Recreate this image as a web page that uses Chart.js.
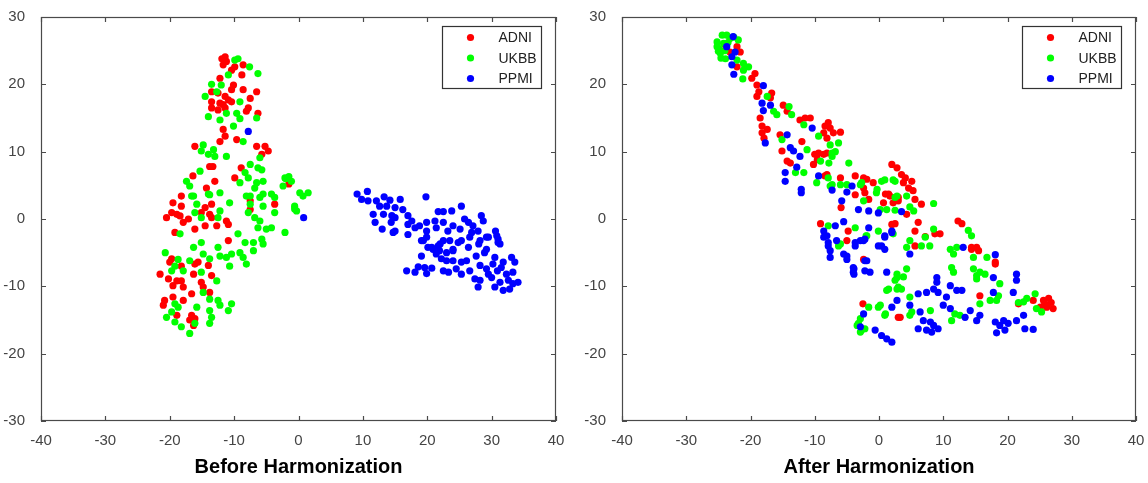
<!DOCTYPE html>
<html>
<head>
<meta charset="utf-8">
<script src="https://cdn.jsdelivr.net/npm/chart.js@4.4.1/dist/chart.umd.min.js"></script>
<style>
  body { margin: 0; background: #fff; }
  #wrap { position: relative; width: 1148px; height: 483px; }
  canvas { position: absolute; top: 0; }
  #before { left: 0; }
  #after { left: 574px; }
</style>
</head>
<body>
<div id="wrap">
  <canvas id="before" width="574" height="483"></canvas>
  <canvas id="after" width="574" height="483"></canvas>
</div>
<script>
const seriesNames = ["ADNI", "UKBB", "PPMI"];
const seriesColors = ["#ff0000", "#00ff00", "#0000ff"];
const xTicksRange = [-40, 40];
const yTicksRange = [-30, 30];

// Before Harmonization
const beforeADNI = [
  [-11.4,24.1],[-11.9,23.8],[-11.2,23.4],[-11.7,22.9],[-9.9,22.6],[-8.6,22.9],[-10.4,22.1],[-8.8,21.4],
  [-12.2,20.9],[-10.1,19.9],[-10.4,19.2],[-13.5,18.9],[-12.5,18.7],[-8.6,19.2],[-6.5,18.9],[-11.4,18.2],
  [-10.9,17.7],[-7.5,17.9],[-13.5,17.4],[-12.2,17.2],[-11.7,17.0],[-10.4,17.4],[-13.5,16.5],[-12.5,16.2],
  [-11.4,16.5],[-7.8,16.5],[-8.1,16.0],[-6.3,15.7],[-11.7,13.3],[-12.2,11.5],[-11.4,12.3],[-9.6,11.8],
  [-16.1,10.8],[-6.5,10.8],[-5.2,10.8],[-4.7,10.1],[-5.7,9.6],[-13.8,7.8],[-13.3,7.8],[-8.9,7.6],
  [-16.4,6.4],[-13.0,5.6],[-9.9,6.1],[-14.3,4.6],[-18.2,3.4],[-1.5,5.2],
  [-19.5,2.4],[-18.2,1.9],[-19.7,0.95],[-18.9,0.7],[-20.5,0.2],[-18.4,0.46],[-17.9,-0.5],[-17.1,0.0],
  [-19.2,-2.0],[-16.1,-1.5],[-14.5,-1.0],[-15.1,0.95],[-14.5,1.7],[-13.5,2.2],[-13.8,0.7],[-13.5,0.2],
  [-12.7,-1.0],[-11.2,-0.3],[-10.9,-0.8],[-7.5,2.7],[-7.5,1.4],[-3.7,2.2],[-10.9,-3.2],[-19.7,-5.9],
  [-20.0,-6.4],[-18.2,-7.0],[-21.5,-8.2],[-20.2,-8.9],[-18.9,-9.2],[-17.9,-10.1],[-18.2,-9.2],[-19.5,-9.9],
  [-16.1,-6.7],[-15.6,-6.4],[-16.3,-8.2],[-15.1,-9.4],[-14.8,-10.1],[-14.0,-6.9],[-13.5,-8.4],[-13.8,-10.9],
  [-16.6,-11.1],[-19.5,-11.6],[-20.8,-12.1],[-21.0,-12.8],[-17.9,-12.1],[-18.9,-14.3],[-16.6,-14.3],
  [-16.9,-15.0],[-16.1,-14.8],[-16.3,-15.8]
];
const beforeUKBB = [
  [-9.4,23.8],[-9.9,23.6],[-7.6,22.6],[-6.3,21.6],[-10.9,21.4],[-13.5,20.0],[-12.0,19.9],[-12.7,18.9],
  [-14.5,18.2],[-9.1,17.4],[-11.2,15.7],[-9.6,15.7],[-14.0,15.2],[-12.2,14.7],[-9.1,14.9],[-6.5,15.0],
  [-10.1,13.8],[-8.6,11.5],[-14.8,11.0],[-15.1,10.1],[-13.2,10.3],[-14.0,9.6],[-13.0,9.3],[-11.2,9.3],
  [-6.0,9.1],[-7.5,8.1],[-6.3,7.6],[-5.7,7.3],[-15.3,7.1],[-8.3,6.9],[-7.8,6.1],[-17.4,5.6],[-16.9,4.9],
  [-9.1,5.4],[-6.5,5.4],[-5.5,5.6],[-2.1,6.1],[-1.1,5.6],[-2.4,4.9],[0.2,3.9],[1.5,3.9],[-16.3,3.4],
  [-14.0,3.7],[-12.2,3.9],[-6.8,4.6],[-5.5,3.7],[-4.2,3.7],[-3.7,3.2],[-7.5,3.4],[0.7,3.4],[-2.0,6.0],
  [-1.5,6.3],[-0.6,1.5],
  [-16.6,3.4],[-15.8,2.2],[-16.1,0.95],[-12.2,1.2],[-12.5,0.2],[-10.7,2.4],[-15.1,0.2],[-18.4,-2.2],
  [-13.8,3.6],[-8.1,3.4],[-7.5,2.2],[-6.0,3.2],[-5.5,1.9],[-7.8,0.95],[-6.8,0.2],[-6.0,-0.3],[-6.3,-1.3],
  [-5.0,-1.5],[-4.2,-1.3],[-3.7,0.95],[-0.6,1.9],[-0.3,1.2],[-2.1,-2.0],[-9.4,-2.2],[-8.3,-3.5],[-7.0,-3.5],
  [-5.7,-3.0],[-5.5,-3.7],[-7.0,-4.7],[-9.1,-5.0],[-10.4,-5.2],[-11.2,-5.7],[-12.2,-5.5],[-12.5,-4.2],
  [-15.1,-3.5],[-16.3,-4.2],[-14.8,-5.2],[-16.9,-6.2],[-13.8,-5.9],[-10.7,-7.0],[-8.6,-5.7],[-8.1,-6.7],
  [-20.7,-5.0],[-19.2,-7.0],[-18.7,-6.0],[-19.7,-7.7],[-17.9,-7.7],[-15.1,-7.9],[-12.7,-9.2],[-14.8,-10.9],
  [-13.8,-11.9],[-12.5,-12.1],[-12.2,-12.8],[-10.4,-12.6],[-10.9,-13.6],[-19.2,-12.6],[-18.7,-13.1],
  [-19.7,-13.8],[-20.5,-14.6],[-19.2,-15.3],[-18.2,-16.0],[-16.9,-17.0],[-15.8,-13.1],[-16.1,-15.5],
  [-13.8,-13.6],[-13.5,-14.6],[-13.8,-15.5]
];
const beforePPMI = [
  [-7.8,13.0],[0.8,0.2],
  [9.1,3.7],[10.7,4.1],[9.8,2.9],[10.8,2.7],[12.1,2.7],[13.3,3.3],[14.2,2.8],[15.8,2.9],[19.8,3.3],
  [12.6,1.9],[13.7,1.9],[15.0,1.7],[11.6,0.7],[13.2,0.7],[14.5,0.5],[15.0,0.2],[16.2,1.4],[17.0,0.5],
  [11.9,-0.5],[13.0,-1.5],[14.4,-0.5],[15.0,-1.8],[17.0,-0.8],[17.6,-0.3],[18.1,-1.3],[18.8,-1.0],
  [19.9,-0.5],[19.9,-1.8],[21.2,-0.3],[21.7,1.1],[22.5,1.1],[23.8,1.2],[25.3,1.9],[21.4,-1.3],[22.5,-0.5],
  [23.2,-1.8],[24.0,-1.0],[25.1,-1.5],[25.8,0.0],[26.4,-0.5],[27.1,-1.0],[26.9,-2.0],[27.9,-1.8],
  [28.4,0.5],[28.7,-0.3],[30.6,-1.8],[31.0,-3.0],[29.5,-2.7],[28.2,-3.2],[26.6,-2.7],[25.3,-3.2],
  [23.5,-3.2],[22.0,-3.7],[20.7,-4.2],[19.1,-3.2],[19.9,-2.7],[24.0,-4.5],[29.2,-4.5],[31.3,-3.7],
  [14.7,-2.0],[17.0,-2.3],[19.4,-3.2],[20.1,-4.2],[20.9,-4.5],[21.7,-4.0],[22.5,-3.2],[24.8,-3.5],
  [21.4,-5.2],[21.9,-4.7],[23.0,-5.0],[24.0,-4.7],[26.4,-4.2],[28.0,-3.7],[29.2,-2.7],[31.0,-3.5],
  [30.8,-2.5],[19.1,-5.5],[22.2,-5.9],[23.0,-6.2],[24.0,-6.2],[25.3,-6.4],[26.1,-6.2],[27.6,-5.5],
  [28.9,-5.0],[30.5,-5.7],[31.8,-6.4],[33.1,-5.7],[33.6,-6.4],[16.8,-7.7],[18.1,-7.9],[18.6,-7.1],
  [19.6,-7.2],[19.9,-8.1],[20.7,-7.3],[22.5,-7.7],[23.3,-7.9],[24.5,-7.4],[25.3,-8.2],[26.6,-7.7],
  [28.2,-6.9],[29.2,-7.4],[29.5,-8.2],[30.2,-6.7],[30.9,-7.7],[31.5,-7.2],[32.3,-8.2],[33.3,-7.9],
  [27.4,-8.9],[28.2,-9.1],[27.9,-10.1],[30.5,-10.1],[31.3,-9.4],[31.8,-10.6],[32.8,-10.4],[33.3,-9.6],
  [34.1,-9.4],[30.0,-8.7],[32.6,-9.1]
];

// After Harmonization
const afterADNI = [
  [-23.9,25.8],[-23.2,24.8],[-22.1,25.6],[-21.6,24.8],[-22.1,22.6],[-19.8,20.9],[-19.3,21.6],[-19.0,19.9],
  [-18.7,18.9],[-19.0,18.2],[-16.7,18.7],[-16.9,18.0],[-14.9,16.9],[-14.3,16.0],[-18.5,15.0],[-18.2,13.8],
  [-17.4,13.3],[-18.2,12.8],[-17.9,12.0],[-12.3,14.7],[-11.5,15.0],[-10.7,15.0],[-15.4,12.5],[-15.1,10.1],
  [-12.0,11.5],[-8.4,13.8],[-7.9,14.3],[-7.6,13.5],[-7.1,12.8],[-6.0,12.9],[-8.6,12.8],[-8.1,12.0],
  [-9.6,9.6],[-9.6,8.8],[-8.6,9.6],[-10.2,8.1],[-8.1,6.6],[-8.4,6.4],[-6.0,6.1],[-3.7,6.4],[-1.9,5.9],
  [-3.7,3.6],[-5.9,1.7],[-9.1,-0.7],[-4.8,-1.8],[-5.0,-3.2],
  [-14.3,8.6],[-13.8,8.3],[-10.0,9.6],[-9.4,9.8],[-8.1,9.8],[-2.4,6.1],[-0.9,5.4],[-2.4,4.6],[-2.2,3.9],
  [-1.6,2.9],[2.0,8.1],[2.8,7.6],[1.0,3.7],[1.5,3.7],[2.2,2.4],[3.0,3.2],[-2.4,-6.0],[2.0,-0.8],
  [-2.5,-12.6],[3.0,-14.6],
  [3.5,6.6],[4.1,6.1],[5.1,5.6],[3.8,5.4],[5.3,4.2],[4.6,4.6],[1.7,3.4],[0.7,2.4],[3.0,2.7],[5.6,2.9],
  [6.6,2.2],[4.3,0.7],[2.5,-0.7],[6.1,-0.5],[5.6,-1.8],[7.2,-2.6],[8.7,-2.2],[9.5,-2.2],[12.3,-0.3],
  [12.9,-0.7],[14.4,-4.2],[15.2,-4.2],[5.6,-4.0],
  [14.4,-4.5],[15.5,-4.7],[18.1,-6.7],[15.7,-11.4],[21.7,-12.6],[24.0,-12.1],[25.6,-12.1],[26.1,-13.1],
  [27.1,-13.3],[26.4,-11.8],[25.1,-13.1],[3.3,-14.6],[18.1,-6.4],[25.8,-12.6],[26.8,-12.4],[26.2,-12.9]
];
const afterUKBB = [
  [-25.2,26.3],[-24.9,25.3],[-24.4,27.3],[-23.7,27.3],[-23.2,26.8],[-21.9,26.6],[-24.7,24.6],[-23.9,23.8],
  [-25.2,25.6],[-24.2,26.1],[-22.1,23.6],[-21.1,23.1],[-20.3,22.6],[-21.1,22.1],[-21.2,20.8],[-17.4,18.2],
  [-16.4,16.0],[-15.9,15.5],[-14.0,16.7],[-13.6,15.5],[-11.7,14.0],[-9.4,12.3],[-7.6,11.0],[-6.3,11.3],
  [-11.2,10.3],[-7.3,9.3],[-6.8,10.0],[-9.1,8.6],[-7.8,8.3],[-4.7,8.3],[-13.0,6.9],[-11.7,6.9],[-9.7,5.4],
  [-7.6,4.9],[-6.0,5.1],[-5.0,5.1],[-2.9,5.1],[-2.4,2.7],[-15.1,11.8],
  [-24.0,25.0],[-23.5,26.2],[-22.6,27.0],[-24.6,23.9],[-25.0,24.9],
  [-7.3,9.8],[-7.9,6.1],[-7.3,5.1],[-0.3,4.4],[0.4,5.6],[2.5,5.6],[0.2,1.4],[1.2,1.4],[2.5,3.2],
  [-7.9,-1.0],[-3.7,-1.3],[-1.9,-2.5],[-6.0,-3.7],[2.8,-8.7],[2.8,-10.4],[1.5,-10.4],[0.2,-12.8],
  [-1.6,-13.1],[1.0,-14.1],[-3.2,-15.5],[-2.9,-16.8],[-2.2,-16.3],
  [-6.3,-4.0],[-2.0,-2.5],[-3.4,-15.8],[-2.7,-16.5],[-2.9,-14.8],
  [0.9,5.8],[2.2,5.8],[-0.4,3.9],[2.8,3.4],[4.3,3.4],[-2.7,5.4],[2.5,1.3],[4.8,1.8],[5.4,1.2],[8.5,2.3],
  [-0.1,-1.8],[2.2,-2.2],[4.8,-3.2],[6.6,-4.0],[7.9,-4.0],[8.5,-1.5],[13.9,-1.7],[14.4,-2.5],[11.1,-4.5],
  [12.1,-4.2],
  [7.2,-2.7],[4.3,-4.2],[11.6,-5.2],[14.7,-5.7],[16.8,-5.7],[11.3,-7.2],[11.6,-7.9],[14.7,-7.4],[15.2,-8.4],
  [15.7,-7.9],[16.5,-8.2],[18.8,-9.6],[17.3,-12.1],[18.3,-12.1],[18.6,-11.4],[15.7,-12.6],[21.7,-12.4],
  [23.0,-11.8],[24.3,-11.1],[24.5,-13.3],[25.3,-13.8],[2.8,-8.2],[4.3,-7.4],[3.0,-10.1],[4.8,-11.6],
  [8.0,-13.6],[11.8,-14.1],[12.6,-14.3],[11.3,-15.1],[4.8,-14.3],
  [-0.1,-13.1],[0.9,-14.3],[15.2,-8.9],[2.5,-9.1],[3.8,-8.6],[3.5,-10.4],[1.2,-10.6],[5.1,-13.8],[22.5,-12.3]
];
const afterPPMI = [
  [-22.7,27.1],[-23.7,25.6],[-22.4,24.8],[-22.9,24.1],[-22.9,22.9],[-22.6,21.5],[-18.0,19.8],[-18.2,17.2],
  [-18.0,16.1],[-16.9,16.9],[-17.7,11.3],[-14.3,12.5],[-13.8,10.6],[-13.3,10.1],[-12.3,9.3],[-12.8,7.7],
  [-14.6,6.9],[-14.6,5.6],[-12.1,4.4],[-12.1,3.9],[-10.4,13.5],[-9.4,6.4],[-7.3,4.3],[-5.0,4.0],[-4.2,4.9],
  [-5.8,2.7],[-3.2,1.4],[-1.6,1.2],[-5.5,-0.4],[-6.8,-1.0],[-8.6,-1.8],[-8.1,-2.5],[-6.6,-3.2],[-3.7,-3.5],
  [-2.4,-3.2],[-1.6,-1.3],
  [-0.1,0.9],[-7.9,-3.5],[-7.6,-5.7],[-5.5,-5.2],[-5.0,-6.0],[-4.0,-7.2],[-4.0,-7.9],[-3.7,-4.0],
  [-1.9,-6.2],[-1.4,-7.9],[0.4,-4.0],[0.9,-4.5],[0.9,-2.7],[2.0,-2.0],[1.2,-7.9],[2.8,-12.1],[2.0,-13.1],
  [-2.4,-14.1],[-2.9,-16.0],[-0.6,-16.5],[0.4,-17.3],[1.2,-17.8],[2.0,-18.3],
  [-8.6,-2.7],[-7.9,-4.0],[-7.6,-4.7],[-5.0,-5.5],[-2.9,-3.2],[-2.2,-3.0],[-3.9,-7.4],[-3.9,-8.2],
  [-2.2,-7.7],[-2.2,-6.2],
  [3.5,1.1],[0.9,-2.5],[2.0,-1.8],[-0.1,-4.0],[13.1,-4.2],
  [18.1,-5.3],[9.0,-8.7],[9.0,-9.4],[11.1,-9.9],[12.1,-10.6],[10.5,-11.6],[12.9,-10.6],[8.5,-10.4],
  [9.2,-10.9],[6.1,-11.1],[7.4,-10.9],[17.8,-8.7],[21.4,-8.2],[21.4,-9.1],[20.9,-10.9],[17.8,-10.9],
  [10.0,-12.8],[11.1,-13.3],[14.2,-13.6],[13.4,-14.6],[15.7,-14.3],[15.2,-15.1],[18.1,-15.3],[19.4,-15.1],
  [20.1,-15.5],[21.4,-15.1],[22.5,-14.3],[18.8,-15.8],[19.6,-16.5],[18.3,-16.9],[22.7,-16.3],[24.0,-16.4],
  [4.8,-12.8],[6.4,-13.8],[6.9,-15.1],[8.0,-15.3],[8.5,-15.8],[8.2,-16.8],[7.4,-16.5],[6.1,-16.3],
  [9.2,-16.3],[4.8,-5.2]
];

const fontFamily = "'Liberation Sans', Arial, sans-serif";

function toPoints(arr) {
  return arr.map(p => ({ x: p[0], y: p[1] }));
}

// box + inward tick marks, matlab style
const axesBox = {
  id: "axesBox",
  afterDraw(chart) {
    const { ctx, chartArea: a, scales } = chart;
    const x = scales.x, y = scales.y;
    ctx.save();
    ctx.strokeStyle = "#4a4a4a";
    ctx.lineWidth = 1.2;
    ctx.strokeRect(a.left + 0.5, a.top + 0.5, a.width - 1, a.height - 1);
    ctx.beginPath();
    x.ticks.forEach(t => {
      const px = Math.round(x.getPixelForValue(t.value)) + 0.5;
      ctx.moveTo(px, a.bottom); ctx.lineTo(px, a.bottom - 5);
      ctx.moveTo(px, a.top); ctx.lineTo(px, a.top + 5);
    });
    y.ticks.forEach(t => {
      const py = Math.round(y.getPixelForValue(t.value)) + 0.5;
      ctx.moveTo(a.left, py); ctx.lineTo(a.left + 5, py);
      ctx.moveTo(a.right, py); ctx.lineTo(a.right - 5, py);
    });
    ctx.stroke();

    // legend box inside top right
    const bw = 99, bh = 62;
    const bx = Math.round(a.right - 15 - bw) + 0.5;
    const by = Math.round(a.top + 9) + 0.5;
    ctx.fillStyle = "#fff";
    ctx.fillRect(bx, by, bw, bh);
    ctx.strokeStyle = "#333";
    ctx.lineWidth = 1.2;
    ctx.strokeRect(bx, by, bw, bh);
    ctx.font = "14px " + fontFamily;
    ctx.textBaseline = "middle";
    ctx.textAlign = "left";
    chart.data.datasets.forEach((ds, i) => {
      const ry = by + 11 + i * 20.5;
      ctx.fillStyle = ds.backgroundColor;
      ctx.beginPath();
      ctx.arc(bx + 28, ry, 3.6, 0, Math.PI * 2);
      ctx.fill();
      ctx.fillStyle = "#222";
      ctx.fillText(ds.label, bx + 56, ry + 1);
    });
    ctx.restore();
  }
};

function makeChart(id, title, sets, yWidth, padRight) {
  const datasets = sets.map((s, i) => ({
    label: seriesNames[i],
    data: toPoints(s),
    backgroundColor: seriesColors[i],
    borderWidth: 0,
    pointRadius: 3.6,
    order: 3 - i
  }));
  const tickFont = { family: fontFamily, size: 15 };
  return new Chart(document.getElementById(id), {
    type: "scatter",
    data: { datasets },
    options: {
      responsive: false,
      animation: false,
      events: [],
      layout: { padding: { top: 15, right: padRight, left: 0, bottom: 0 } },
      plugins: { legend: { display: false }, tooltip: { enabled: false } },
      scales: {
        x: {
          type: "linear",
          min: xTicksRange[0],
          max: xTicksRange[1],
          ticks: { stepSize: 10, color: "#444", font: tickFont, padding: 3, maxRotation: 0 },
          grid: { display: false },
          border: { display: false },
          title: {
            display: true,
            text: title,
            color: "#000",
            font: { family: fontFamily, size: 20, weight: "bold" },
            padding: { top: 0, bottom: 4 }
          },
          afterFit(s) { s.height = 62; }
        },
        y: {
          min: yTicksRange[0],
          max: yTicksRange[1],
          ticks: { stepSize: 10, color: "#444", font: tickFont, padding: 8 },
          grid: { display: false },
          border: { display: false },
          afterFit(s) { s.width = yWidth; }
        }
      }
    },
    plugins: [axesBox]
  });
}

makeChart("before", "Before Harmonization", [beforeADNI, beforeUKBB, beforePPMI], 41, 18);
makeChart("after", "After Harmonization", [afterADNI, afterUKBB, afterPPMI], 48, 12);
</script>
</body>
</html>
